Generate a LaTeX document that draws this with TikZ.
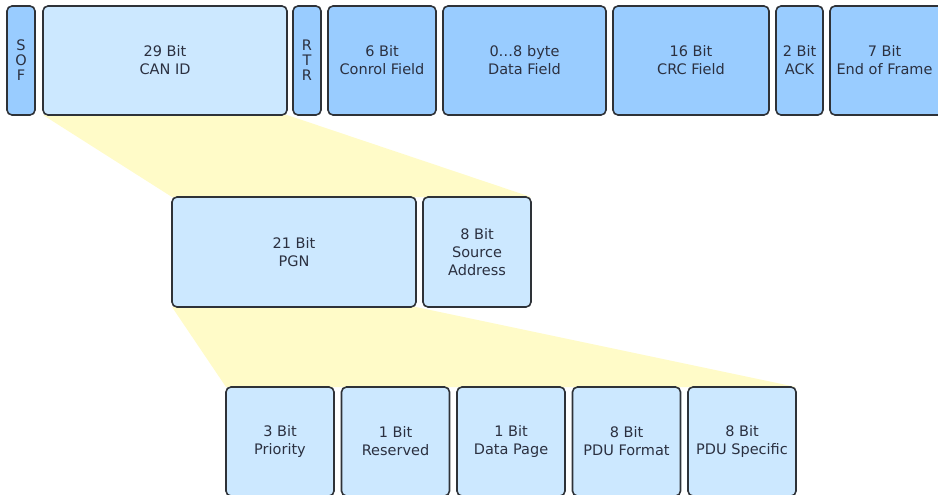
\documentclass[tikz,border=0pt]{standalone}
\usepackage{fontspec}
\setmainfont{DejaVu Sans}
\usetikzlibrary{positioning,backgrounds}
\definecolor{fieldblue}{HTML}{99CCFF}
\definecolor{idblue}{HTML}{CCE8FF}
\definecolor{fanyellow}{HTML}{FFFBC8}
\definecolor{framegray}{HTML}{2E3238}
\definecolor{textgray}{HTML}{2B3040}

\begin{document}
\begin{tikzpicture}[
x=1pt,
y=-1pt,
field/.style={rectangle,
								rounded corners=5pt,
								draw=framegray,
								line width=1.6pt,
								fill=fieldblue,
								text=textgray,
								minimum height=109pt,
								inner sep=0pt,
								outer sep=0pt,
								align=center,
								font=\fontsize{14.5}{18}\selectfont},
id field/.style={field, fill=idblue},
letters/.style={font=\fontsize{14.5}{15}\selectfont},
fan/.style={fill=fanyellow}]
\useasboundingbox (0,0) rectangle (938,495);
%can frame
  \node[field, letters, minimum width=28pt] (sof) at (21,60.5) {S\\O\\F};
  \node[id field, minimum width=244pt] (canid) [right=8pt of sof] {29 Bit\\CAN ID};
  \node[field, letters, minimum width=28pt] (rtr) [right=6pt of canid] {R\\T\\R};
  \node[field, minimum width=108pt] (ctrl) [right=7pt of rtr] {6 Bit\\Conrol Field};
  \node[field, minimum width=163pt] (data) [right=7pt of ctrl] {0\dots8 byte\\Data Field};
  \node[field, minimum width=156pt] (crc) [right=7pt of data] {16 Bit\\CRC Field};
  \node[field, minimum width=47pt] (ack) [right=7pt of crc] {2 Bit\\ACK};
  % text sits a bit left, the box runs off the edge
  \node[field, minimum width=115pt] (eof) [right=7pt of ack] {7 Bit\hspace*{6pt}\\End of Frame\hspace*{6pt}};
%can id
  \node[id field, minimum width=244pt, minimum height=110pt] (pgn) at (294,252) {21 Bit\\PGN};
  \node[id field, minimum width=108pt, minimum height=110pt] (sa) [right=7pt of pgn] {8 Bit\\Source\\Address};
%pgn
  \node[id field, minimum width=108pt] (prio) at (280,441.5) {3 Bit\\Priority};
  \node[id field, minimum width=108pt] (res) [right=7.5pt of prio] {1 Bit\\Reserved};
  \node[id field, minimum width=108pt] (dp) [right=7.5pt of res] {1 Bit\\Data Page};
  \node[id field, minimum width=108pt] (pf) [right=7.5pt of dp] {8 Bit\\PDU Format};
  \node[id field, minimum width=108pt] (ps) [right=7.5pt of pf] {8 Bit\\PDU Specific};
%fans
  \begin{scope}[on background layer]
    \fill[fan] (canid.south west) -- (canid.south east) -- (sa.north east) -- (pgn.north west) -- cycle;
    \fill[fan] (pgn.south west) -- (pgn.south east) -- (ps.north east) -- (prio.north west) -- cycle;
  \end{scope}
\end{tikzpicture}
\end{document}
